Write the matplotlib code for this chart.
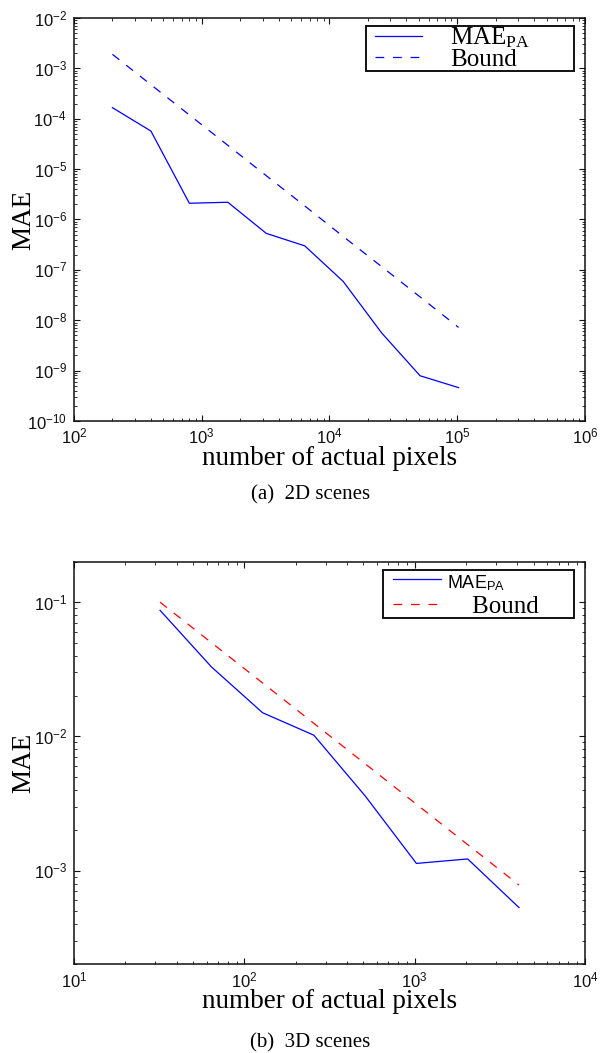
import numpy as np
import matplotlib
matplotlib.use("Agg")
import matplotlib.pyplot as plt
from matplotlib.lines import Line2D
from matplotlib.legend_handler import HandlerLine2D
from matplotlib.ticker import FixedLocator, LogLocator, NullFormatter, FuncFormatter

plt.rcParams["mathtext.fontset"] = "custom"
plt.rcParams["mathtext.rm"] = "Liberation Serif"
plt.rcParams["mathtext.sf"] = "Liberation Sans"
plt.rcParams["mathtext.it"] = "Liberation Serif:italic"

SANS = "Liberation Sans"
SERIF = "Liberation Serif"

# (a) 2D scenes
N_2D = [200, 400, 800, 1600, 3200, 6400, 12800, 25600, 51200, 102400]
MAE_2D = [1.66e-4, 5.7e-5, 2.1e-6, 2.2e-6, 5.3e-7, 3.0e-7, 5.9e-8, 5.6e-9, 7.9e-10, 4.6e-10]
BOUND_2D = [1.9e-3, 4.75e-4, 1.19e-4, 2.97e-5, 7.4e-6, 1.86e-6, 4.6e-7, 1.16e-7, 2.9e-8, 7.2e-9]
XTICKS_2D = [1e2, 1e3, 1e4, 1e5, 1e6]
YTICKS_2D = [1e-10, 1e-9, 1e-8, 1e-7, 1e-6, 1e-5, 1e-4, 1e-3, 1e-2]

# (b) 3D scenes
N_3D = [32, 64, 128, 256, 512, 1024, 2048, 4096]
MAE_3D = [0.087, 0.033, 0.0150, 0.0102, 0.0036, 1.13e-3, 1.22e-3, 5.3e-4]
BOUND_3D = [0.1, 0.05, 0.025, 0.0125, 6.25e-3, 3.12e-3, 1.56e-3, 7.8e-4]
XTICKS_3D = [1e1, 1e2, 1e3, 1e4]
YTICKS_3D = [1e-3, 1e-2, 1e-1]


def sci(v, _pos=None):
    e = int(round(np.log10(v)))
    return r"$\mathsf{10^{%d}}$" % e


def style(ax, xticks, yticks):
    ax.set_xscale("log")
    ax.set_yscale("log")
    ax.xaxis.set_major_locator(FixedLocator(xticks))
    ax.yaxis.set_major_locator(FixedLocator(yticks))
    ax.xaxis.set_minor_locator(LogLocator(base=10, subs=np.arange(2, 10), numticks=100))
    ax.yaxis.set_minor_locator(LogLocator(base=10, subs=np.arange(2, 10), numticks=100))
    ax.xaxis.set_minor_formatter(NullFormatter())
    ax.yaxis.set_minor_formatter(NullFormatter())
    ax.xaxis.set_major_formatter(FuncFormatter(sci))
    ax.yaxis.set_major_formatter(FuncFormatter(sci))
    ax.tick_params(which="both", direction="in", top=True, right=True,
                   colors="#111111", labelsize=12)
    ax.tick_params(which="major", length=4, width=0.8, pad=5)
    ax.tick_params(which="minor", length=2, width=0.6)
    for s in ax.spines.values():
        s.set_linewidth(1.1)
        s.set_color("#111111")
    ax.set_xlabel("number of actual pixels", fontsize=19.5, family=SERIF)
    ax.set_ylabel("MAE", fontsize=19.5, family=SERIF, va="center")
    ax.xaxis.set_label_coords(0.5, -0.062)
    ax.yaxis.set_label_coords(-0.098, 0.5)


# left padding inside the legend frame comes from the handle's xpad
PADDED = {Line2D: HandlerLine2D(xpad=0.38)}

fig = plt.figure(figsize=(6, 10.53), dpi=100)
fig.patch.set_facecolor("white")

ax1 = fig.add_axes([0.1233, 0.6002, 0.8517, 0.3827])
ax1.plot(N_2D, MAE_2D, color="#0000ff", linewidth=0.9, label=r"MAE$_{\mathrm{PA}}$")
ax1.plot(N_2D, BOUND_2D, color="#0000ff", linewidth=0.9, dashes=(7, 7), label="Bound")
ax1.set_xlim(1e2, 1e6)
ax1.set_ylim(1e-10, 1e-2)
style(ax1, XTICKS_2D, YTICKS_2D)
leg1 = ax1.legend(loc="upper left", bbox_to_anchor=(0.571, 0.981, 0.408, 0.0),
                  mode="expand", prop={"family": SERIF, "size": 18},
                  handlelength=2.26, handletextpad=1.12, labelspacing=-0.08,
                  borderpad=0.0, borderaxespad=0, fancybox=False,
                  framealpha=1, edgecolor="#111111", handler_map=PADDED)
leg1.get_frame().set_linewidth(1.4)

ax2 = fig.add_axes([0.1233, 0.0842, 0.8517, 0.3823])
ax2.plot(N_3D, MAE_3D, color="#0000ff", linewidth=0.9, label=r"MAE$_{\mathsf{PA}}$")
ax2.plot(N_3D, BOUND_3D, color="#ff0000", linewidth=0.9, dashes=(7, 7), label="    Bound")
ax2.set_xlim(1e1, 1e4)
ax2.set_ylim(2e-4, 2e-1)
style(ax2, XTICKS_3D, YTICKS_3D)
leg2 = ax2.legend(loc="upper left", bbox_to_anchor=(0.605, 0.979, 0.374, 0.0),
                  mode="expand", prop={"family": SERIF, "size": 18},
                  handlelength=2.3, handletextpad=0.25, labelspacing=0.1,
                  borderpad=0.02, borderaxespad=0, fancybox=False,
                  framealpha=1, edgecolor="#111111", handler_map=PADDED)
leg2.get_frame().set_linewidth(1.4)
t0 = leg2.get_texts()[0]
t0.set_family(SANS)
t0.set_fontsize(13)

fig.text(0.517, 1 - 495 / 1053, "(a)  2D scenes", family=SERIF, fontsize=15,
         ha="center", va="center")
fig.text(0.517, 1 - 1043 / 1053, "(b)  3D scenes", family=SERIF, fontsize=15,
         ha="center", va="center")

fig.savefig("out.png", dpi=100, facecolor="white")
